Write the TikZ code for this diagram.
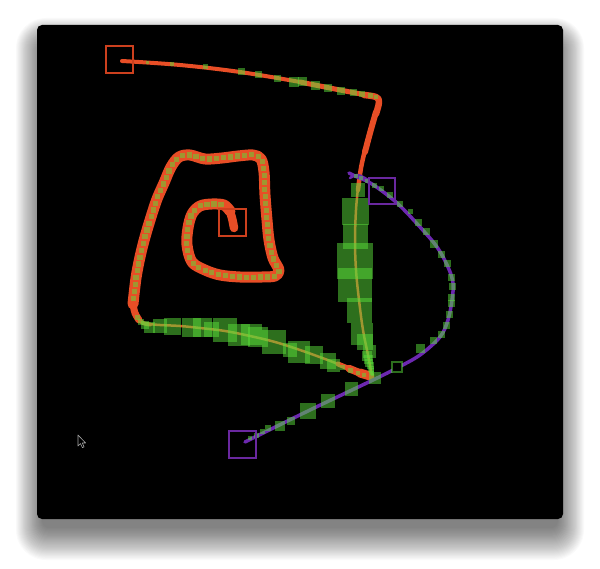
\documentclass[tikz,border=0pt]{standalone}
\usetikzlibrary{decorations.markings}
\definecolor{strokeorange}{RGB}{232,78,38}
\definecolor{boxorange}{RGB}{205,64,30}
\definecolor{strokepurple}{RGB}{108,40,176}
\definecolor{boxpurple}{RGB}{106,40,160}
\definecolor{sqgreen}{RGB}{90,222,58}
\tikzset{
  gsq/.style={fill=sqgreen, fill opacity=0.5},
  oline/.style={draw=strokeorange, line cap=round, line join=round},
  pline/.style={draw=strokepurple, line cap=round, line join=round},
  obox/.style={draw=boxorange, line width=1.4pt},
  pbox/.style={draw=boxpurple, line width=1.4pt},
}
\newcommand{\sqlist}[1]{\foreach \x/\y/\s in {#1}{\fill[gsq] ({\x-\s/2},{\y-\s/2}) rectangle ++(\s,\s);}}
\begin{document}
\begin{tikzpicture}[x=1pt,y=-1pt]
\useasboundingbox (0,0) rectangle (600,569);
\fill[white] (0,0) rectangle (600,569);
% window shadow
\foreach \e in {1,...,30}{
  \pgfmathsetmacro{\rr}{6+0.8*\e}
  \fill[black, opacity=0.02, rounded corners=\rr pt] ({43-0.9*\e},{45-0.9*\e}) rectangle ({557+0.9*\e},{527+1.1*\e});
}
% window
\fill[black, rounded corners=5pt] (37,25) rectangle (563,519);

% ---------- orange stroke ----------
% top segment
\draw[oline, line width=4] plot[smooth, tension=0.6] coordinates {(122,61) (180,65) (240,72) (300,82)};
\draw[oline, line width=5] plot[smooth, tension=0.6] coordinates {(300,82) (340,90) (366,95)};
\draw[oline, line width=6.5] plot[smooth, tension=0.6] coordinates {(364,95) (376,97) (379,102) (376,114)};
\draw[oline, line width=6] plot[smooth, tension=0.6] coordinates {(376,112) (370,133) (365,152)};
\draw[oline, line width=4.5] plot[smooth, tension=0.6] coordinates {(365,150) (361,168) (358,190)};
% column
\draw[oline, line width=2.5] plot[smooth, tension=0.6] coordinates {(358,188) (356,210) (355,240) (356,270) (359,300) (363,330) (368,355) (372,376)};
% turn blob
\draw[oline, line width=9] (370,376) -- (360,373);
\draw[oline, line width=7.5] (360,373) -- (349,368.5);
\draw[oline, line width=5] (349,368.5) -- (338,364);
% lower segment
\draw[oline, line width=2.5] plot[smooth, tension=0.6] coordinates {(338,364) (325,359) (300,350) (275,342) (250,336) (225,331) (200,328) (180,326) (160,325) (148,324)};
\draw[oline, line width=4] plot[smooth, tension=0.6] coordinates {(150,324.5) (143,323) (138,319)};
\draw[oline, line width=7] plot[smooth, tension=0.6] coordinates {(139,320) (135,313) (133,304)};
% spiral
\draw[oline, line width=11, postaction={decorate, decoration={markings,
   mark=between positions 0.01 and 0.985 step 7pt with {\pgftransformresetnontranslations\fill[gsq] (-2.6pt,-2.6pt) rectangle (2.6pt,2.6pt);}}}]
  plot[smooth, tension=0.55] coordinates {(133,304) (136,278) (140,257) (145,237) (151,217) (157,199) (164,183) (171,167) (179,157) (190,155) (205,159) (222,158) (238,156) (253,155) (261,159) (264,172) (265,195) (267,220) (269,240) (273,258) (279,270) (275,276) (262,277) (240,277) (220,275) (205,270) (192,262) (187,245) (188,228) (192,214) (200,206) (212,204) (224,205) (230,211)};
\draw[oline, line width=8.5] plot[smooth, tension=0.6] coordinates {(229,209) (232,218) (234,228)};

% ---------- purple stroke ----------
\draw[pline, line width=3.5] plot[smooth, tension=0.55] coordinates {(245,442) (310,410) (373,380) (397,368) (420,355) (440,337) (448,320) (452,300) (453,283) (448,267) (437,247) (420,227) (397,203) (372,184) (355,176) (349,173)};
\draw[pline, line width=2.5] plot[smooth, tension=0.6] coordinates {(350,178) (358,175) (368,180)};

% ---------- green squares ----------
% top segment
\sqlist{147/63/3, 172/64/4, 205/67/5, 241/72/7, 258/75/7, 277/79/7, 294/82/10, 302/82/9, 315/86/9, 328/88/8, 341/91/8, 353/93/7, 362/94/6, 370/96/5, 376/97/4}
% column
\sqlist{358/190/14, 355.5/211.5/27, 355/236.5/25, 355/261/36, 355/285/34, 359/311/25, 362/334/22, 365/342/16, 369/352/13, 367/356/10, 368/360/9, 369/363/8, 370/366/7, 371/369/6, 371/371/5, 372/373/4, 372/375/3}
% lower segment
\sqlist{137/318/5, 141/322/6, 145/325/8, 149/328/11, 160/326/14, 172/327/17, 191/328/19, 202/328/19, 211/330/15, 225/330/24, 239/335/22, 251/335/21, 258/337/20, 274/342/24, 290/350/14, 299/352/22, 314/355/18, 328/361/16, 333/366/13, 342/368/5, 350/371/5, 358/373/4, 364/375/4}
% purple path
\sqlist{250/438/4, 256/435/5, 262/431/5, 268/428/6, 280/426/10, 291/421/8, 308/411/16, 328/401/14, 351/389/13, 375/378/12, 420/349/9, 433/341/7, 441/335/7, 446/326/7, 449/315/7, 451/304/7, 451/298/7, 452/287/7, 451/278/7, 447/264/7, 441/255/7, 434/244/8, 426/232/7, 418/223/7, 410/212/5, 400/204/6, 390/195/6, 381/189/5, 374/186/5, 367/181/4, 361/178/4, 356/176/4}
% hollow square
\fill[black] (392,362) rectangle (402,372);
\draw[draw=sqgreen, draw opacity=0.5, line width=2.2] (392,362) rectangle (402,372);

% ---------- endpoint boxes ----------
\draw[obox] (106,46) rectangle (133,73);
\draw[obox] (219,209) rectangle (246,236);
\draw[pbox] (369,178) rectangle (395,204);
\draw[pbox] (229,431) rectangle (256,458);

% ---------- mouse cursor ----------
\draw[fill=black, draw=white!65!black, line width=0.6, line join=round]
  (78,435) -- (78,446) -- (80.5,443.6) -- (82.4,447.6) -- (84.1,446.9) -- (82.3,443) -- (85.6,443) -- cycle;
\end{tikzpicture}
\end{document}
